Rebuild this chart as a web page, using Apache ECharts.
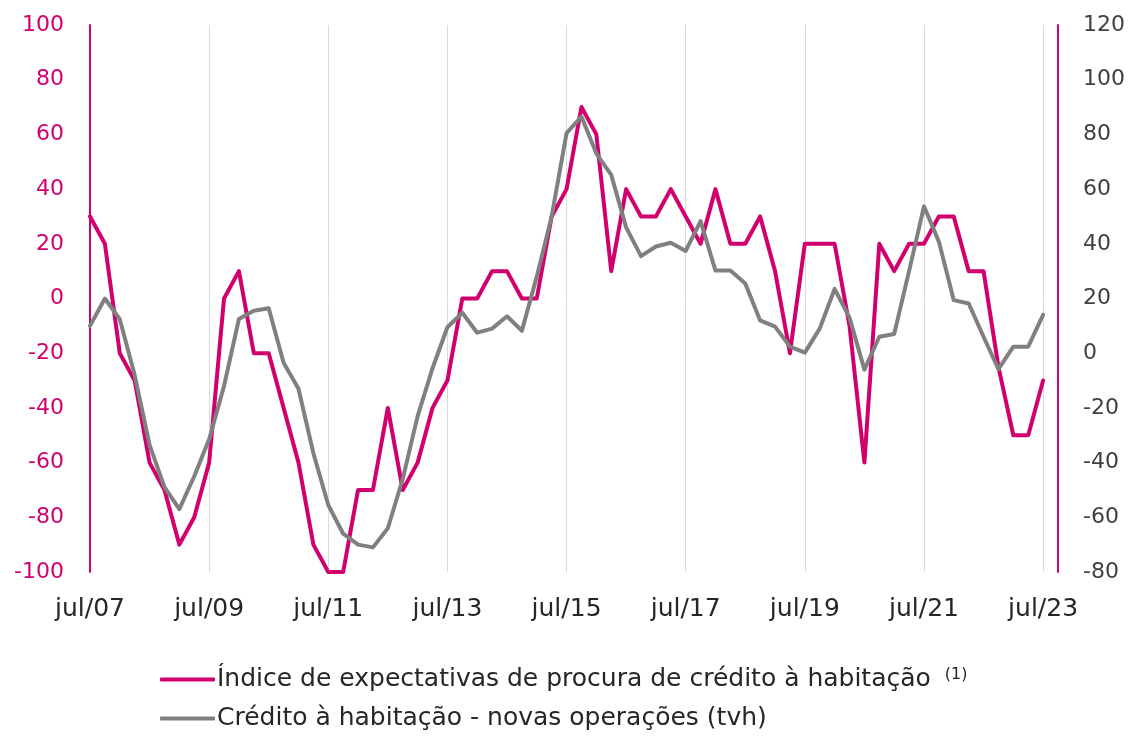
<!DOCTYPE html>
<html>
<head>
<meta charset="utf-8">
<script src="https://cdn.jsdelivr.net/npm/echarts@6/dist/echarts.min.js"></script>
<style>
  html, body { margin: 0; padding: 0; background: #fff; }
  #chart { width: 1131px; height: 736px; }
</style>
</head>
<body>
<div id="chart"></div>
<script>
// quarters, jul/07 .. out/23 (last one has no data)
const categories = [
  'jul/07', 'out/07',
  'jan/08', 'abr/08', 'jul/08', 'out/08',
  'jan/09', 'abr/09', 'jul/09', 'out/09',
  'jan/10', 'abr/10', 'jul/10', 'out/10',
  'jan/11', 'abr/11', 'jul/11', 'out/11',
  'jan/12', 'abr/12', 'jul/12', 'out/12',
  'jan/13', 'abr/13', 'jul/13', 'out/13',
  'jan/14', 'abr/14', 'jul/14', 'out/14',
  'jan/15', 'abr/15', 'jul/15', 'out/15',
  'jan/16', 'abr/16', 'jul/16', 'out/16',
  'jan/17', 'abr/17', 'jul/17', 'out/17',
  'jan/18', 'abr/18', 'jul/18', 'out/18',
  'jan/19', 'abr/19', 'jul/19', 'out/19',
  'jan/20', 'abr/20', 'jul/20', 'out/20',
  'jan/21', 'abr/21', 'jul/21', 'out/21',
  'jan/22', 'abr/22', 'jul/22', 'out/22',
  'jan/23', 'abr/23', 'jul/23', 'out/23'
];

// left axis
const indiceProcura = [
  30, 20, -20, -30, -60, -70, -90, -80, -60, 0,
  10, -20, -20, -40, -60, -90, -100, -100, -70, -70,
  -40, -70, -60, -40, -30, 0, 0, 10, 10, 0,
  0, 30, 40, 70, 60, 10, 40, 30, 30, 40,
  30, 20, 40, 20, 20, 30, 10, -20, 20, 20,
  20, -10, -60, 20, 10, 20, 20, 30, 30, 10,
  10, -25, -50, -50, -30
];

// right axis
const creditoTvh = [
  10, 20, 12.4, -8, -33.5, -49, -57, -45, -31.5, -12,
  12.5, 15.5, 16.4, -3.5, -13, -36.6, -55.5, -66, -70, -71,
  -64, -46, -23, -5.5, 9.5, 14.8, 7.5, 9, 13.5, 8.2,
  28, 50, 80.5, 86.5, 73, 65.2, 46, 35.5, 39, 40.4,
  37.4, 48.3, 30.2, 30.2, 25.5, 12, 9.7, 2.4, 0.2, 9,
  23.5, 13, -6, 6, 7, 30, 53.7, 40.8, 19.4, 18.2,
  6, -5.8, 2.4, 2.4, 14
];

const pink = '#d2006e';
const grey = '#808080';
const font = 'DejaVu Sans';

const chart = echarts.init(document.getElementById('chart'));

chart.setOption({
  animation: false,
  textStyle: { fontFamily: font },
  grid: { left: 90, right: 73, top: 25, bottom: 164 },
  legend: {
    orient: 'vertical',
    left: 160,
    top: 667,
    padding: 0,
    itemWidth: 55,
    itemHeight: 4,
    itemGap: 14,
    icon: 'roundRect',
    textStyle: {
      fontFamily: font,
      fontSize: 25,
      color: '#262626',
      padding: [0, 0, 0, -3],
      rich: {
        sup: { fontFamily: font, fontSize: 16, color: '#262626', verticalAlign: 'top', padding: [0, 0, 8, 14] }
      }
    },
    formatter: function (name) {
      if (name.indexOf('Índice') === 0) return name + '{sup|(1)}';
      return name;
    }
  },
  xAxis: {
    type: 'category',
    data: categories,
    boundaryGap: false,
    axisLine: { show: false },
    axisTick: { show: false },
    axisLabel: {
      interval: 7,
      margin: 25,
      fontSize: 25,
      color: '#262626',
      fontFamily: font
    },
    splitLine: {
      show: true,
      interval: 7,
      lineStyle: { color: '#d9d9d9', width: 1 }
    }
  },
  yAxis: [
    {
      type: 'value',
      min: -100,
      max: 100,
      interval: 20,
      axisLine: { show: true, lineStyle: { color: pink, width: 2 } },
      axisTick: { show: false },
      splitLine: { show: false },
      axisLabel: { color: pink, fontSize: 22, margin: 26, fontFamily: font }
    },
    {
      type: 'value',
      position: 'right',
      min: -80,
      max: 120,
      interval: 20,
      axisLine: { show: true, lineStyle: { color: pink, width: 2 } },
      axisTick: { show: false },
      splitLine: { show: false },
      axisLabel: { color: '#404040', fontSize: 22, margin: 25, fontFamily: font }
    }
  ],
  series: [
    {
      name: 'Índice de expectativas de procura de crédito à habitação',
      type: 'line',
      yAxisIndex: 0,
      data: indiceProcura,
      symbol: 'none',
      itemStyle: { color: pink },
      lineStyle: { color: pink, width: 4, join: 'round', cap: 'round' }
    },
    {
      name: 'Crédito à habitação - novas operações (tvh)',
      type: 'line',
      yAxisIndex: 1,
      data: creditoTvh,
      symbol: 'none',
      itemStyle: { color: grey },
      lineStyle: { color: grey, width: 4, join: 'round', cap: 'round' }
    }
  ]
});

window.addEventListener('resize', () => chart.resize());
</script>
</body>
</html>
